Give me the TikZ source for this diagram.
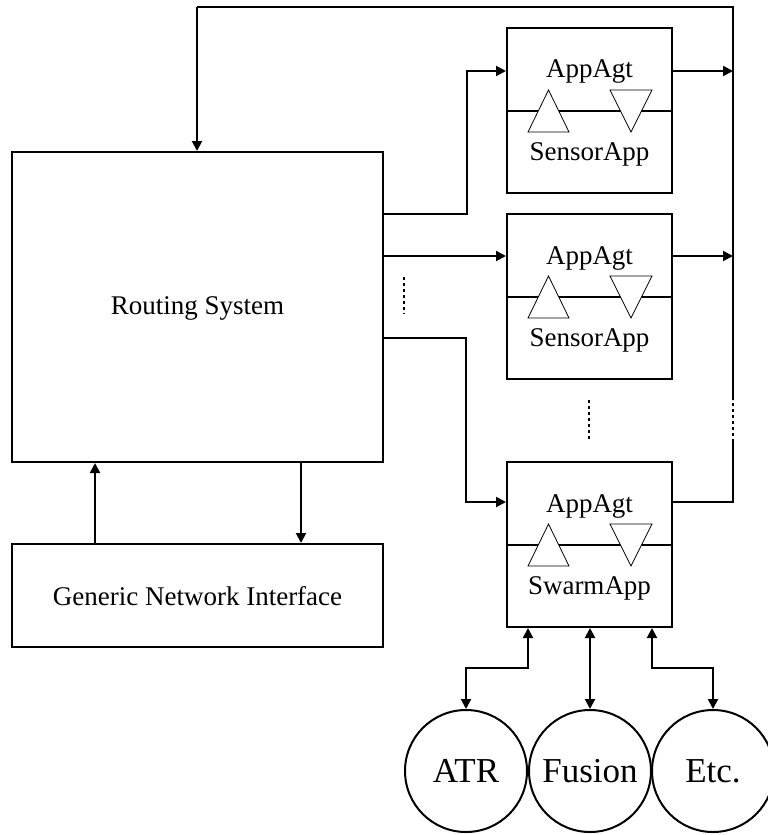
\documentclass[tikz,border=0pt]{standalone}
\usepackage{fontspec}
\setmainfont{Liberation Serif}
\usetikzlibrary{arrows.meta,calc}
\begin{document}
\begin{tikzpicture}[x=1pt,y=-1pt,
  box/.style={draw,line width=2pt,rectangle,inner sep=0pt,fill=white},
  lbl/.style={font=\fontsize{27}{32}\selectfont,inner sep=0pt},
  clbl/.style={draw,line width=2pt,circle,inner sep=0pt,minimum size=122pt,font=\fontsize{35}{40}\selectfont},
  conn/.style={line width=2pt},
  arr/.style={conn,-{Triangle[length=10pt,width=10pt]}},
  darr/.style={conn,{Triangle[length=10pt,width=10pt]}-{Triangle[length=10pt,width=10pt]}},
  dots/.style={line width=2pt,dash pattern=on 3pt off 3pt},
  tri/.style={draw,line width=0.8pt,fill=white}]
\useasboundingbox (0,0) rectangle (768,835);

% main boxes
\node[box,minimum width=371pt,minimum height=310pt] (rs) at (197.5,307) {};
\node[lbl] at (197.5,308) {Routing System};
\node[box,minimum width=371pt,minimum height=103pt] (gni) at (197.5,595.5) {};
\node[lbl] at (197.5,596) {Generic Network Interface};

% agent boxes
\foreach \n/\t/\app in {b1/28/SensorApp,b2/214/SensorApp,b3/462/SwarmApp}{
  \node[box,minimum width=165pt,minimum height=165pt] (\n) at (589.5,\t+82.5) {};
  \draw[line width=2pt] (\n.west) -- (\n.east);
  \draw[tri] (528,\t+104) -- (548.5,\t+62) -- (569,\t+104) -- cycle;
  \draw[tri] (610,\t+62) -- (652,\t+62) -- (631,\t+104) -- cycle;
  \node[lbl] at (589.5,\t+44) {AppAgt};
  \node[lbl] at (589.5,\t+126) {\app};
}

% circles
\node[clbl] (atr) at (466,771) {ATR};
\node[clbl] (fus) at (590,771) {Fusion};
\node[clbl] (etc) at (713,771) {Etc.};

% bus coordinates
\coordinate (bustop) at (733,7);
\coordinate (busleft) at (197,7);
\coordinate (dashtop) at (733,400);
\coordinate (dashbot) at (733,442);
\coordinate (busbot) at (733,502);

% routing to agents
\draw[arr] ([yshift=93pt]rs.east) -- (467,214) -- (467,71) -- (b1.west |- 0,71);
\draw[arr] ([yshift=51pt]rs.east) -- (b2.west |- 0,256);
\draw[arr] ([yshift=-31pt]rs.east) -- (466,338) -- (466,502) -- (b3.west |- 0,502);

% agents to bus
\draw[arr] (b1.east |- 0,71) -- (bustop |- 0,71);
\draw[arr] (b2.east |- 0,256) -- (bustop |- 0,256);
\draw[conn] (b3.east |- 0,502) -- (busbot) -- (dashbot);
\draw[dots] (dashbot) -- (dashtop);
\draw[conn] (dashtop) -- (bustop) -- (busleft);
\draw[arr] (busleft) -- (busleft |- rs.north);

% routing <-> GNI
\draw[arr] (gni.north -| 95,0) -- (rs.south -| 95,0);
\draw[arr] (rs.south -| 301,0) -- (gni.north -| 301,0);

% dotted ellipses
\coordinate (d1a) at (404,277);
\coordinate (d1b) at (404,314);
\draw[dots] (d1a) -- (d1b);
\coordinate (d2a) at (589,400);
\coordinate (d2b) at (589,440);
\draw[dots] (d2a) -- (d2b);

% agent to circles
\draw[darr] (b3.south -| 528,0) -- (528,668) -- (466,668) -- (atr.north);
\draw[darr] (b3.south -| 590,0) -- (fus.north);
\draw[darr] (b3.south -| 652,0) -- (652,668) -- (713,668) -- (etc.north);
\end{tikzpicture}
\end{document}
